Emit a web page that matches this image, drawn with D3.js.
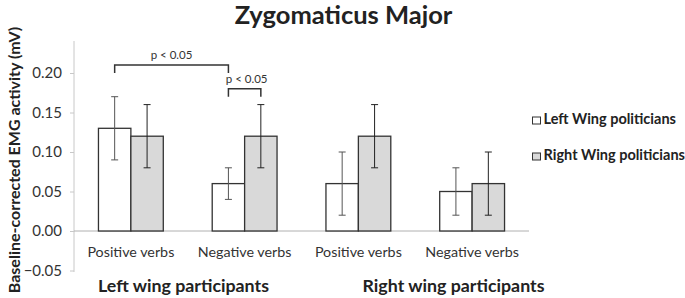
<!DOCTYPE html>
<html>
<head>
<meta charset="utf-8">
<script src="https://cdn.jsdelivr.net/npm/d3@7"></script>
<style>
  body { margin: 0; background: #fff; }
  svg { font-family: Lato, "Open Sans", sans-serif; }
</style>
</head>
<body>
<svg width="685" height="298"></svg>
<script>
// Data
var conditions = ['Positive verbs', 'Negative verbs', 'Positive verbs', 'Negative verbs'];
var participantGroups = ['Left wing participants', 'Right wing participants'];
var seriesNames = ['Left Wing politicians', 'Right Wing politicians'];
var leftWingValues = [0.13, 0.06, 0.06, 0.05];
var leftWingErrors = [0.04, 0.02, 0.04, 0.03];
var rightWingValues = [0.12, 0.12, 0.12, 0.06];
var rightWingErrors = [0.04, 0.04, 0.04, 0.04];
var yTicks = [-0.05, 0, 0.05, 0.10, 0.15, 0.20];

var svg = d3.select('svg');

// Layout
var plot = {l: 74, r: 529, t: 41, b: 272};

var x = d3.scaleBand()
    .domain(d3.range(conditions.length))
    .range([plot.l, plot.r])
    .paddingInner(0.43)
    .paddingOuter(0.215);

var xSeries = d3.scaleBand()
    .domain([0, 1])
    .range([0, x.bandwidth()]);

var y = d3.scaleLinear()
    .domain([-0.05, 0.24])
    .range([270.5, 270.5 - 0.29 / 0.05 * 39.5]);

var colors = ['#ffffff', '#d9d9d9'];
var errColors = ['#555', '#222'];

// Title
svg.append('text')
    .attr('x', 343.5)
    .attr('y', 23.5)
    .attr('text-anchor', 'middle')
    .style('font-size', '25.5px')
    .style('font-weight', 'bold')
    .style('fill', '#222')
    .text('Zygomaticus Major');

// Y axis
var yAxis = d3.axisLeft(y)
    .tickValues(yTicks)
    .tickSize(4)
    .tickPadding(8)
    .tickFormat(d3.format('.2f'));

var yAxisG = svg.append('g')
    .attr('transform', 'translate(' + plot.l + ',0)')
    .call(yAxis);
yAxisG.select('.domain').remove();
yAxisG.append('line')
    .attr('x1', 0).attr('x2', 0)
    .attr('y1', plot.t).attr('y2', plot.b)
    .attr('stroke', '#c8c8c8');
yAxisG.selectAll('.tick line').attr('stroke', '#c8c8c8');
yAxisG.selectAll('.tick text')
    .style('font-size', '15px')
    .style('fill', '#333')
    .style('font-family', 'Lato, sans-serif');

// Y axis title
svg.append('text')
    .attr('transform', 'translate(20,' + 160 + ') rotate(-90)')
    .attr('text-anchor', 'middle')
    .style('font-size', '16px')
    .style('font-weight', 'bold')
    .style('fill', '#222')
    .text('Baseline-corrected EMG activity (mV)');

// Zero line
svg.append('line')
    .attr('x1', plot.l).attr('x2', plot.r)
    .attr('y1', y(0)).attr('y2', y(0))
    .attr('stroke', '#b0b0b0');

// Bars
var series = [
    {values: leftWingValues, errors: leftWingErrors},
    {values: rightWingValues, errors: rightWingErrors}
];

series.forEach(function(s, si) {
    var g = svg.append('g').attr('class', 'series-' + si);

    g.selectAll('rect')
        .data(s.values)
        .enter().append('rect')
        .attr('x', function(d, i) { return x(i) + xSeries(si); })
        .attr('y', function(d) { return y(d); })
        .attr('width', xSeries.bandwidth())
        .attr('height', function(d) { return y(0) - y(d); })
        .attr('fill', colors[si])
        .attr('stroke', '#333')
        .attr('stroke-width', 1.3);

    // Error bars
    var eb = g.selectAll('.err')
        .data(s.values)
        .enter().append('g')
        .attr('class', 'err')
        .attr('stroke', errColors[si])
        .attr('stroke-width', 1);
    var cx = function(i) { return x(i) + xSeries(si) + xSeries.bandwidth() / 2; };
    eb.append('line')
        .attr('x1', function(d, i) { return cx(i); })
        .attr('x2', function(d, i) { return cx(i); })
        .attr('y1', function(d, i) { return y(d + s.errors[i]); })
        .attr('y2', function(d, i) { return y(d - s.errors[i]); });
    [1, -1].forEach(function(sign) {
        eb.append('line')
            .attr('x1', function(d, i) { return cx(i) - 3.5; })
            .attr('x2', function(d, i) { return cx(i) + 3.5; })
            .attr('y1', function(d, i) { return y(d + sign * s.errors[i]); })
            .attr('y2', function(d, i) { return y(d + sign * s.errors[i]); });
    });
});

// Category labels
svg.selectAll('.cat-label')
    .data(conditions)
    .enter().append('text')
    .attr('class', 'cat-label')
    .attr('x', function(d, i) { return x(i) + x.bandwidth() / 2; })
    .attr('y', 256.5)
    .attr('text-anchor', 'middle')
    .style('font-size', '14.3px')
    .style('fill', '#333')
    .text(function(d) { return d; });

// Participant group labels
var groupX = [183.5, 453.5];
svg.selectAll('.group-label')
    .data(participantGroups)
    .enter().append('text')
    .attr('class', 'group-label')
    .attr('x', function(d, i) { return groupX[i]; })
    .attr('y', 292)
    .attr('text-anchor', 'middle')
    .style('font-size', '17.8px')
    .style('font-weight', 'bold')
    .style('fill', '#222')
    .text(function(d) { return d; });

// Significance brackets
var brackets = [
    {from: [0, 0], to: [1, 0], top: 0.21, leg: 0.20, label: 'p < 0.05', dx: 0},
    {from: [1, 0], to: [1, 1], top: 0.18, leg: 0.17, label: 'p < 0.05', dx: 2}
];
brackets.forEach(function(b) {
    var x1 = x(b.from[0]) + xSeries(b.from[1]) + xSeries.bandwidth() / 2;
    var x2 = x(b.to[0]) + xSeries(b.to[1]) + xSeries.bandwidth() / 2;
    svg.append('path')
        .attr('d', 'M' + x1 + ',' + y(b.leg) + 'V' + y(b.top) + 'H' + x2 + 'V' + y(b.leg))
        .attr('fill', 'none')
        .attr('stroke', '#333')
        .attr('stroke-width', 1.5);
    svg.append('text')
        .attr('x', (x1 + x2) / 2 + b.dx)
        .attr('y', y(b.top) - 6)
        .attr('text-anchor', 'middle')
        .style('font-size', '11.5px')
        .style('fill', '#333')
        .text(b.label);
});

// Legend
var legendY = [120.5, 156.5];
var legend = svg.selectAll('.legend')
    .data(seriesNames)
    .enter().append('g')
    .attr('class', 'legend')
    .attr('transform', function(d, i) { return 'translate(532,' + legendY[i] + ')'; });
legend.append('rect')
    .attr('x', 0.5).attr('y', -3.5)
    .attr('width', 8).attr('height', 7)
    .attr('fill', function(d, i) { return colors[i]; })
    .attr('stroke', '#333');
legend.append('text')
    .attr('x', 11.5)
    .attr('y', 3.7)
    .style('font-size', '14.5px')
    .style('font-weight', 'bold')
    .style('fill', '#222')
    .text(function(d) { return d; });
</script>
</body>
</html>
